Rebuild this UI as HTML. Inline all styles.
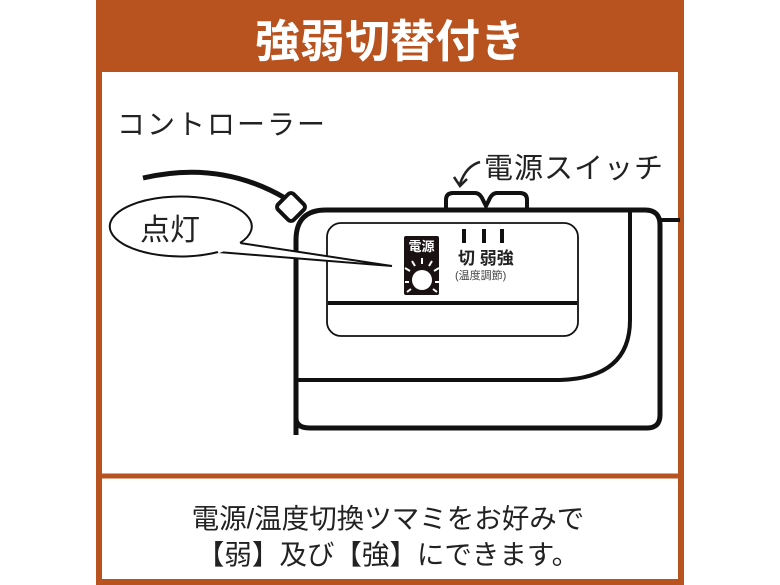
<!DOCTYPE html>
<html><head><meta charset="utf-8"><style>
html,body{margin:0;padding:0;background:#fff;}
svg{display:block;}
text{font-family:"Liberation Sans","Noto Sans CJK JP",sans-serif;}
</style></head><body>
<svg width="780" height="585" viewBox="0 0 780 585" xmlns="http://www.w3.org/2000/svg">
<rect x="0" y="0" width="780" height="585" fill="#fff"/>
<rect x="96" y="0" width="588" height="72" fill="#b8521f"/>
<rect x="99" y="-5" width="582" height="587" fill="none" stroke="#b8521f" stroke-width="6"/>
<line x1="96" y1="476" x2="684" y2="476" stroke="#b8521f" stroke-width="5"/>
<text x="390" y="57" font-size="45" font-weight="bold" fill="#fff" text-anchor="middle">強弱切替付き</text>

<text x="117" y="134" font-size="28" letter-spacing="2" fill="#222">コントローラー</text>
<text x="484" y="178" font-size="29" letter-spacing="1" fill="#222">電源スイッチ</text>
<path d="M480 162 Q466 166 460 184" fill="none" stroke="#222" stroke-width="2.5"/>
<path d="M454 177 L460 186 L467 179" fill="none" stroke="#222" stroke-width="2.5"/>

<path d="M143 178 Q220 160 285 198" fill="none" stroke="#111" stroke-width="5"/>
<path d="M446 210 L446 200 Q446 193 453 193 L475 193 Q480 193 483 200 L486 206 L489 200 Q492 193 497 193 L520 193 Q527 193 527 200 L527 210" fill="#fff" stroke="#111" stroke-width="4"/>
<path d="M296 435 L296 240 Q296 210 326 210 L645 210 Q660 210 660 225 L660 415 Q660 428 647 428 L310 428 Q296 428 296 418" fill="#fff" stroke="#111" stroke-width="5"/>
<line x1="660" y1="220" x2="680" y2="220" stroke="#111" stroke-width="4"/>
<path d="M630 212 L630 320 Q630 378 560 380 L296 380" fill="none" stroke="#111" stroke-width="4"/>
<rect x="280" y="196" width="22" height="22" rx="4" transform="rotate(45 291 207)" fill="#fff" stroke="#111" stroke-width="4"/>
<rect x="327" y="223" width="251" height="113" rx="14" fill="#fff" stroke="#111" stroke-width="1.8"/>
<line x1="328" y1="303" x2="577" y2="303" stroke="#111" stroke-width="4"/>
<rect x="404" y="236" width="35" height="59" rx="2" fill="#1a1212"/>
<text x="421.5" y="251" font-size="13" font-weight="bold" fill="#fff" text-anchor="middle">電源</text>
<circle cx="422" cy="280" r="10" fill="#fff"/>
<g stroke="#fff" stroke-width="2">
<line x1="422" y1="258" x2="422" y2="264"/>
<line x1="412" y1="261" x2="415" y2="266"/>
<line x1="432" y1="261" x2="429" y2="266"/>
<line x1="405" y1="268" x2="410" y2="271"/>
<line x1="439" y1="268" x2="434" y2="271"/>
<line x1="405" y1="282" x2="409" y2="282"/>
<line x1="439" y1="282" x2="435" y2="282"/>
<line x1="407" y1="292" x2="411" y2="289"/>
<line x1="437" y1="292" x2="433" y2="289"/>
</g>
<g stroke="#111" stroke-width="4"><line x1="464" y1="229" x2="464" y2="243"/><line x1="484" y1="229" x2="484" y2="243"/><line x1="502" y1="229" x2="502" y2="243"/></g>
<text x="458" y="264" font-size="17" font-weight="bold" fill="#222">切 弱強</text>
<text x="455" y="279" font-size="11" fill="#444">(温度調節)</text>

<path d="M240 243 A71 30 0 1 0 218 252 L392 266 Z" fill="#fff" stroke="#111" stroke-width="2"/>
<path d="M218 252 L240 243" stroke="#fff" stroke-width="3"/>
<text x="140" y="240" font-size="30" fill="#222">点灯</text>

<text x="388" y="528" font-size="27.5" fill="#222" text-anchor="middle">電源/温度切換ツマミをお好みで</text>
<text x="388" y="564" font-size="27.5" fill="#222" text-anchor="middle">【弱】及び【強】にできます。</text>
</svg>
</body></html>
